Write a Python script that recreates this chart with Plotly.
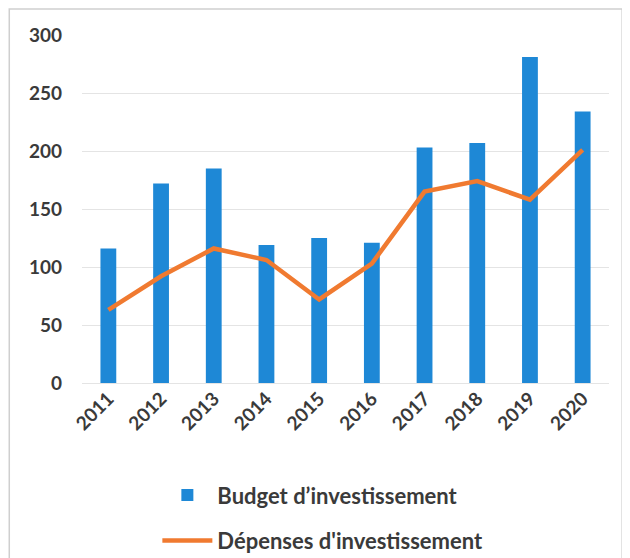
import plotly.graph_objects as go

# Investment budget vs spending, 2011-2020
years = ["2011", "2012", "2013", "2014", "2015", "2016", "2017", "2018", "2019", "2020"]
budget = [116, 172, 185, 119, 125, 121, 203, 207, 281, 234]
depenses = [63, 92, 116, 106, 72, 103, 165, 174, 158, 201]
y_ticks = [0, 50, 100, 150, 200, 250, 300]

font_family = "Lato, 'Open Sans', sans-serif"
text_color = "#3a3a3a"

fig = go.Figure()
fig.add_trace(go.Bar(x=years, y=budget, name="Budget d\u2019investissement",
                     marker=dict(color="#1E88D6", line=dict(width=0)),
                     legendgroup="a"))
fig.add_trace(go.Scatter(x=years, y=depenses, name="D\u00e9penses d'investissement",
                         mode="lines", line=dict(color="#F07A30", width=4.5),
                         legendgroup="b"))

# page body adds an 8px margin, so the figure is 8px smaller than the window
fig.update_layout(
    width=622, height=550,
    margin=dict(l=74, r=21, t=27, b=175, autoexpand=False),
    paper_bgcolor="white",
    plot_bgcolor="white",
    bargap=0.7,
    font=dict(family=font_family, size=18, color=text_color, weight="bold"),
    showlegend=True,
    legend=dict(orientation="v", x=0.143, xanchor="left", y=-0.262, yanchor="top",
                traceorder="grouped", tracegroupgap=14, itemwidth=50,
                font=dict(size=22, color=text_color, weight="bold"),
                bgcolor="rgba(0,0,0,0)"),
)
fig.update_xaxes(tickangle=-45, showgrid=False, showline=False, ticks="",
                 automargin=False, tickfont=dict(size=19, weight="bold"))
fig.update_yaxes(range=[0, 300], tickvals=y_ticks, showgrid=True,
                 gridcolor="#e4e4e4", gridwidth=1, zeroline=True,
                 zerolinecolor="#e4e4e4", zerolinewidth=1, showline=False,
                 ticks="", ticklabelstandoff=19, automargin=False,
                 tickfont=dict(size=19, weight="bold"))

# faint frame of the scanned chart
fig.add_shape(type="rect", xref="paper", yref="paper",
              x0=-0.138, x1=1.025, y0=-0.6, y1=1.075,
              line=dict(color="#cfcfcf", width=1.5), layer="below")

fig.write_html("out.html")
